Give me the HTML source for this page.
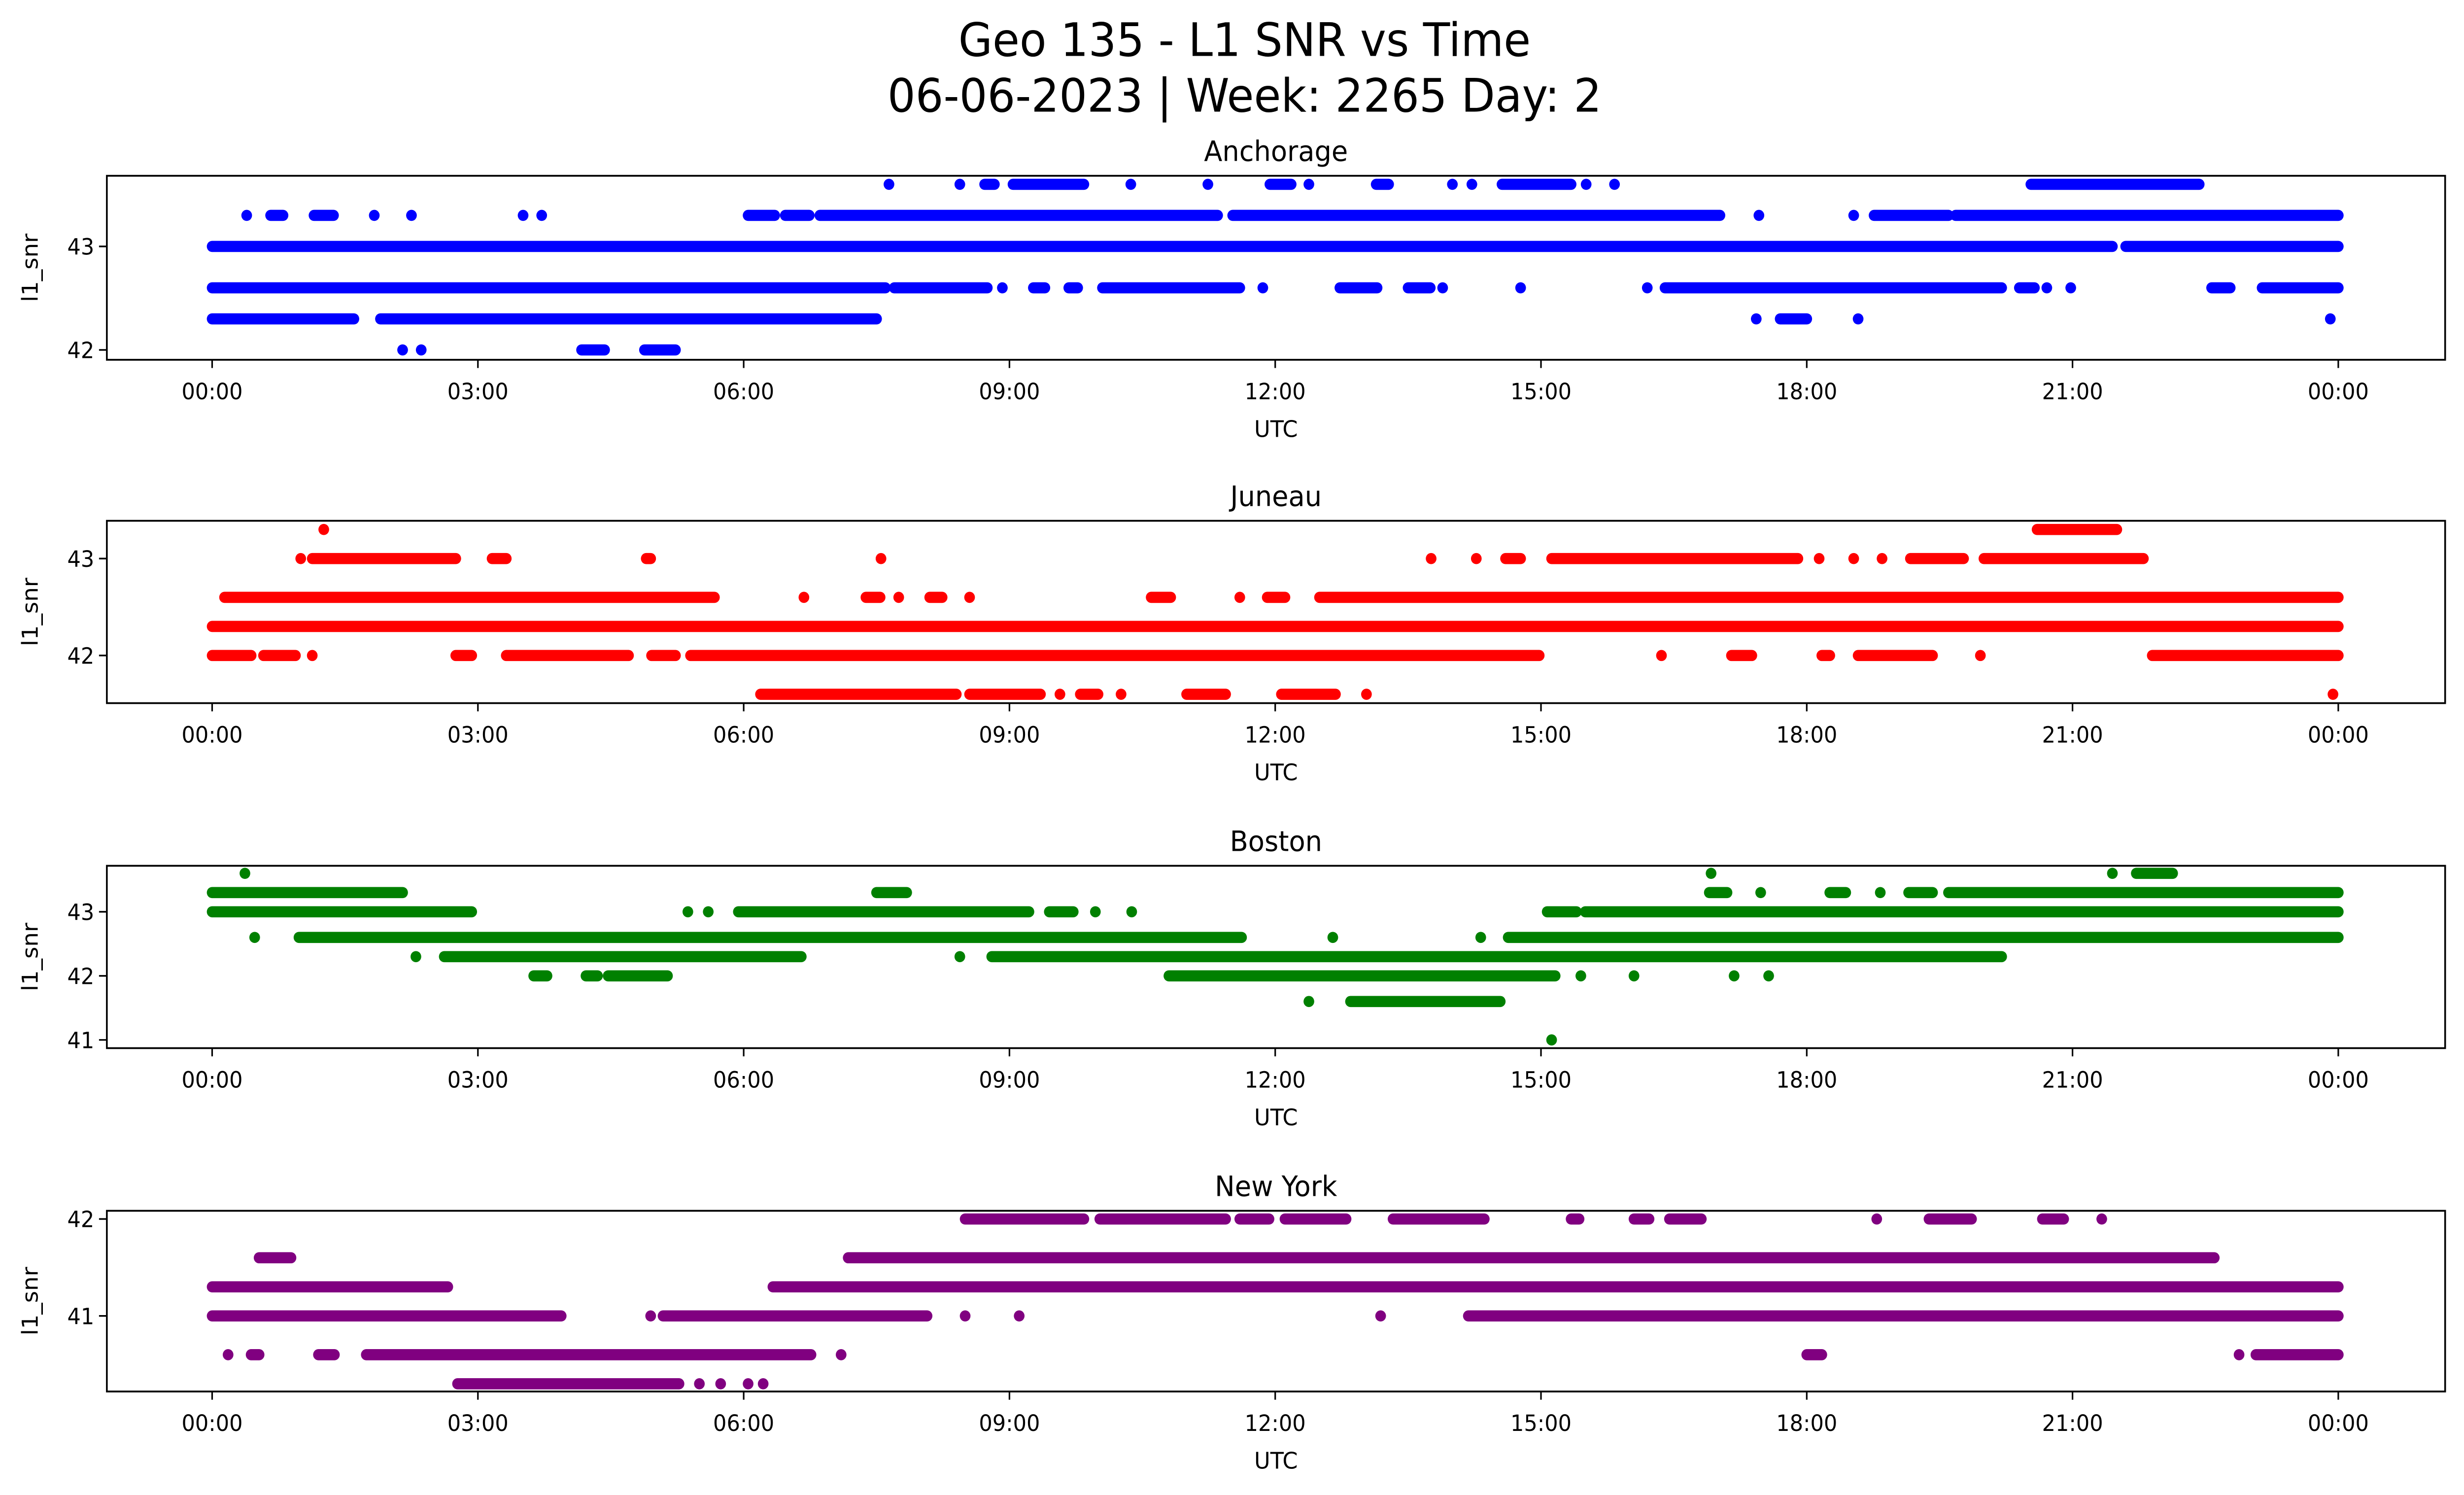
<!DOCTYPE html>
<html><head><meta charset="utf-8"><style>
html,body{margin:0;padding:0;background:#fff;width:100%;height:100%;overflow:hidden;}
svg{display:block;font-family:"DejaVu Sans","Liberation Sans",sans-serif;width:100vw;height:100vh;}
</style></head><body>
<svg id="fig" viewBox="0 0 1568 910" preserveAspectRatio="none" xmlns="http://www.w3.org/2000/svg">
<rect width="1568" height="910" fill="#fff"/>
<text x="792" y="34" font-size="28" text-anchor="middle">Geo 135 - L1 SNR vs Time</text>
<text x="792" y="68" font-size="28" text-anchor="middle">06-06-2023 | Week: 2265 Day: 2</text>
<g id="panels"></g>
</svg>
<script>
// x-axis ticks (hours) and labels
const xTickHours = [0,3,6,9,12,15,18,21,24];
const xTickLabels = ["00:00","03:00","06:00","09:00","12:00","15:00","18:00","21:00","00:00"];

// Anchorage
const anchLevels = [43.6,43.3,43.0,42.6,42.3,42.0];
const anchRuns = [
 [[7.64,7.64],[8.44,8.44],[8.72,8.83],[9.04,9.84],[10.37,10.37],[11.24,11.24],[11.94,12.18],[12.38,12.38],[13.14,13.28],[14.0,14.0],[14.22,14.22],[14.56,15.34],[15.51,15.51],[15.83,15.83],[20.53,22.43]],
 [[0.39,0.39],[0.66,0.8],[1.15,1.37],[1.83,1.83],[2.25,2.25],[3.51,3.51],[3.72,3.72],[6.05,6.35],[6.47,6.74],[6.86,11.35],[11.52,17.02],[17.46,17.46],[18.53,18.53],[18.76,19.6],[19.68,24]],
 [[0.0,21.45],[21.6,24]],
 [[0,7.6],[7.7,8.75],[8.92,8.92],[9.27,9.4],[9.67,9.77],[10.05,11.6],[11.86,11.86],[12.73,13.15],[13.5,13.75],[13.89,13.89],[14.77,14.77],[16.2,16.2],[16.4,20.2],[20.4,20.57],[20.71,20.71],[20.98,20.98],[22.57,22.78],[23.14,24]],
 [[0,1.6],[1.9,7.5],[17.43,17.43],[17.7,18.0],[18.58,18.58],[23.91,23.91]],
 [[2.15,2.15],[2.36,2.36],[4.17,4.43],[4.88,5.23]]
];
// Juneau
const junLevels = [43.3,43.0,42.6,42.3,42.0,41.6];
const junRuns = [
 [[1.26,1.26],[20.6,21.5]],
 [[1.0,1.0],[1.13,2.75],[3.16,3.32],[4.9,4.95],[7.55,7.55],[13.76,13.76],[14.27,14.27],[14.6,14.77],[15.12,17.9],[18.14,18.14],[18.53,18.53],[18.85,18.85],[19.17,19.77],[20.0,21.8]],
 [[0.14,5.67],[6.68,6.68],[7.38,7.54],[7.75,7.75],[8.1,8.24],[8.55,8.55],[10.6,10.82],[11.6,11.6],[11.91,12.11],[12.5,24]],
 [[0,24]],
 [[0,0.44],[0.58,0.94],[1.13,1.13],[2.75,2.93],[3.32,4.7],[4.96,5.23],[5.4,14.98],[16.36,16.36],[17.15,17.38],[18.17,18.26],[18.58,19.42],[19.96,19.96],[21.9,24]],
 [[6.19,8.4],[8.55,9.35],[9.57,9.57],[9.8,10.0],[10.26,10.26],[11.0,11.44],[12.07,12.68],[13.03,13.03],[23.94,23.94]]
];
// Boston
const bosLevels = [43.6,43.3,43.0,42.6,42.3,42.0,41.6,41.0];
const bosRuns = [
 [[0.37,0.37],[16.92,16.92],[21.45,21.45],[21.72,22.13]],
 [[0,2.15],[7.5,7.84],[16.9,17.1],[17.48,17.48],[18.26,18.44],[18.83,18.83],[19.15,19.42],[19.6,24]],
 [[0,2.93],[5.37,5.37],[5.6,5.6],[5.94,9.22],[9.45,9.72],[9.97,9.97],[10.38,10.38],[15.07,15.4],[15.5,24]],
 [[0.48,0.48],[0.98,11.62],[12.65,12.65],[14.32,14.32],[14.63,24]],
 [[2.3,2.3],[2.62,6.65],[8.44,8.44],[8.8,20.2]],
 [[3.63,3.78],[4.22,4.35],[4.47,5.14],[10.8,15.16],[15.45,15.45],[16.05,16.05],[17.18,17.18],[17.57,17.57]],
 [[12.38,12.38],[12.85,14.54]],
 [[15.12,15.12]]
];
// New York
const nyLevels = [42.0,41.6,41.3,41.0,40.6,40.3];
const nyRuns = [
 [[8.5,9.84],[10.02,11.44],[11.6,11.93],[12.11,12.8],[13.33,14.36],[15.34,15.43],[16.05,16.22],[16.45,16.81],[18.79,18.79],[19.38,19.86],[20.66,20.9],[21.33,21.33]],
 [[0.53,0.89],[7.18,22.6]],
 [[0,2.66],[6.33,24]],
 [[0,3.94],[4.95,4.95],[5.09,8.07],[8.5,8.5],[9.11,9.11],[13.19,13.19],[14.18,24]],
 [[0.18,0.18],[0.44,0.53],[1.2,1.38],[1.74,6.76],[7.1,7.1],[18.0,18.17],[22.88,22.88],[23.07,24]],
 [[2.77,5.27],[5.5,5.5],[5.74,5.74],[6.05,6.05],[6.22,6.22]]
];

const NS = "http://www.w3.org/2000/svg";
const panelsG = document.getElementById("panels");
const AX_L = 68, AX_R = 1556, R = 3.4;
function xScale(h){ return 135 + h * (1353/24); }
function mk(tag, attrs, parent){ const e = document.createElementNS(NS, tag); for (const k in attrs) e.setAttribute(k, attrs[k]); parent.appendChild(e); return e; }

const panels = [
 {name:"Anchorage", key:"anchorage", top:107, bot:219, v0:42, y0:213, ppu:63, yt:[42,43], levels:anchLevels, runs:anchRuns, color:"#0000ff"},
 {name:"Juneau", key:"juneau", top:317, bot:428, v0:42, y0:399, ppu:59, yt:[42,43], levels:junLevels, runs:junRuns, color:"#ff0000"},
 {name:"Boston", key:"boston", top:527, bot:638, v0:42, y0:594, ppu:39, yt:[41,42,43], levels:bosLevels, runs:bosRuns, color:"#008000"},
 {name:"New York", key:"new-york", top:737, bot:847, v0:41, y0:801, ppu:59, yt:[41,42], levels:nyLevels, runs:nyRuns, color:"#800080"}
];

panels.forEach(p => {
  const g = mk("g", {}, panelsG);
  
  
  const yScale = v => p.y0 - (v - p.v0) * p.ppu;
  const t = mk("text", {x:(AX_L+AX_R)/2, y:p.top-9, "font-size":17, "text-anchor":"middle"}, g);
  t.textContent = p.name;
  
  
  const pts = mk("g", {fill:p.color}, g);
  
  
  p.levels.forEach((lv, i) => {
    const y = yScale(lv);
    p.runs[i].forEach(r => {
      const x1 = xScale(r[0]), x2 = xScale(r[1]);
      const el = mk("rect", {x:x1-R, y:y-R, width:(x2-x1)+2*R, height:2*R, rx:R, ry:R}, pts);
      
      
    });
  });
  const frame = mk("rect", {x:AX_L, y:p.top, width:AX_R-AX_L, height:p.bot-p.top, fill:"none", stroke:"#000", "stroke-width":1.1}, g);
  
  
  xTickHours.forEach((h, i) => {
    const x = xScale(h);
    mk("line", {x1:x, x2:x, y1:p.bot, y2:p.bot+5, stroke:"#000", "stroke-width":1}, g);
    const tl = mk("text", {x:x, y:p.bot+24, "font-size":13.5, "text-anchor":"middle"}, g);
    tl.textContent = xTickLabels[i];
    
    
  });
  p.yt.forEach(v => {
    const y = yScale(v);
    mk("line", {x1:AX_L-5, x2:AX_L, y1:y, y2:y, stroke:"#000", "stroke-width":1}, g);
    const tl = mk("text", {x:AX_L-8, y:y+5, "font-size":13.5, "text-anchor":"end"}, g);
    tl.textContent = String(v);
    
    
  });
  const xl = mk("text", {x:(AX_L+AX_R)/2, y:p.bot+47, "font-size":14, "text-anchor":"middle"}, g);
  xl.textContent = "UTC";
  
  
  const ym = (p.top+p.bot)/2;
  const yl = mk("text", {x:0, y:0, "font-size":14, "text-anchor":"middle", transform:`translate(24,${ym}) rotate(-90)`}, g);
  yl.textContent = "l1_snr";
  
  
});
</script>
</body></html>
